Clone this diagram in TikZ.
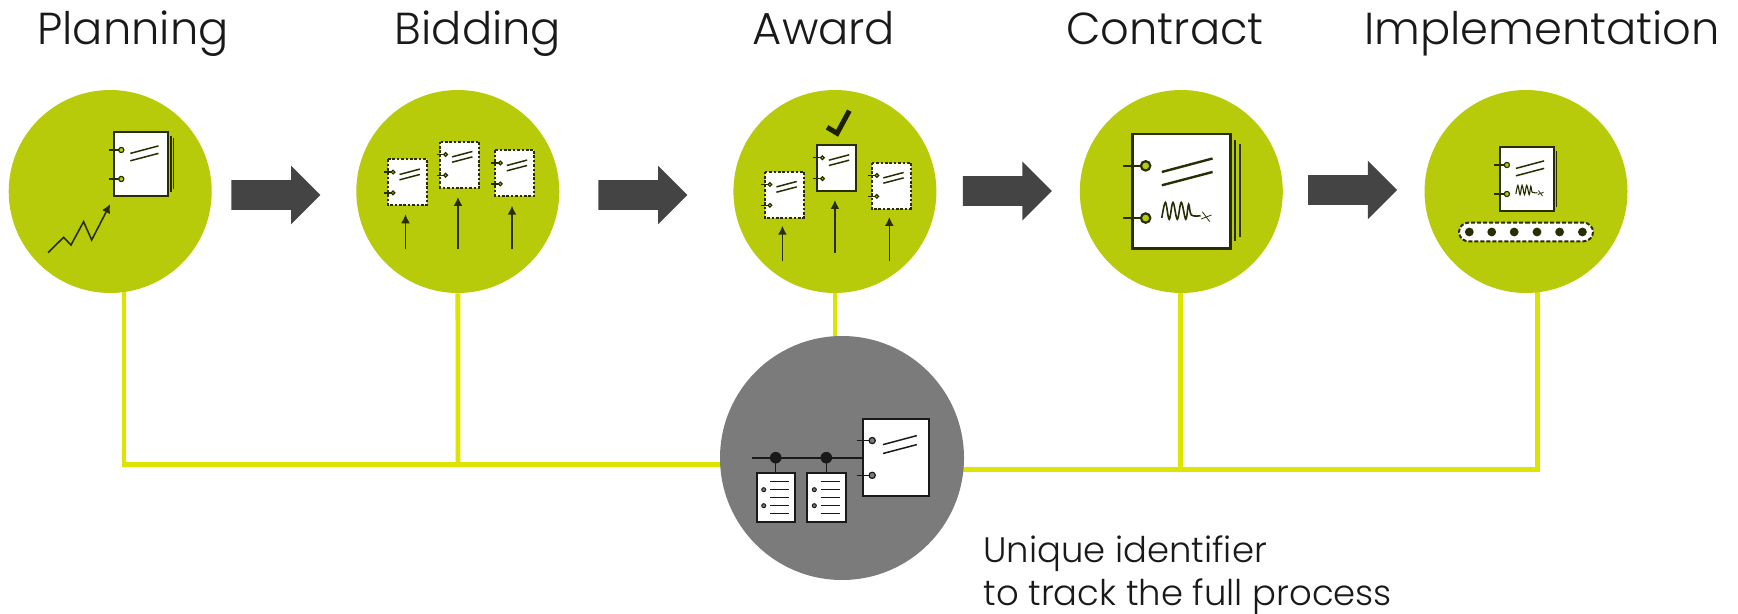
\documentclass[tikz,border=0pt]{standalone}
\usepackage{fontspec}
\setmainfont{Poppins Light}
\usepackage{tikz}
\usetikzlibrary{positioning, arrows.meta, shapes.arrows, shapes.misc, calc}
\pgfdeclarelayer{background}
\pgfsetlayers{background,main}
\definecolor{stagegreen}{HTML}{B8CB0A}
\definecolor{hubgrey}{HTML}{7B7B7B}
\definecolor{linkyellow}{HTML}{DCE400}
\definecolor{arrowgrey}{HTML}{444444}
\colorlet{ink}{black!50!stagegreen!45!black}
\colorlet{ringfill}{stagegreen}
\tikzset{
    stage/.style={circle, fill=stagegreen, minimum size=101.5pt, inner sep=0pt},
    hub/.style={circle, fill=hubgrey, minimum size=122pt, inner sep=0pt},
    link/.style={draw=linkyellow, line width=2.4pt},
    flow/.style={single arrow, fill=arrowgrey, anchor=tip, inner xsep=0pt, inner ysep=7.25pt,
      minimum height=44.5pt, single arrow head extend=7.25pt},
    title/.style={anchor=base, font=\fontsize{22.4}{27}\selectfont, text=black!90},
    note/.style={anchor=base west, inner sep=0pt, font=\fontsize{17.7}{21.5}\selectfont, text=black!90},
    perforated/.style={dash pattern=on 1.3pt off 0.9pt},
    edge/.style={line width=1pt},
    slash/.style={draw=ink, line width=0.75pt},
    tick/.style={draw=ink, line width=0.6pt},
    ring/.style={draw=ink, fill=ringfill, line width=0.6pt},
    pen/.style={draw=ink, line width=0.55pt},
    up/.style={draw=ink, line width=0.75pt, -{Latex[length=4.5pt,width=4.5pt]}},
    sheet/.pic = {
    \draw[draw=ink, fill=white, edge, #1] (0,0) rectangle (54.4,63.7);
    \foreach \ringy in {17.7,46.7} {
      \draw[tick] (-5.1,\ringy) -- (5,\ringy);
      \draw[ring] (7.4,\ringy) circle (2.6);
    }
    \draw[slash] (16.4,21.1) -- (44.6,13.6);
    \draw[slash] (16.4,28.5) -- (44.6,21.1);
    },
    stack/.pic = {
    \draw[slash] (57,3.4) -- (57,59.6);
    \draw[slash] (59.8,5.7) -- (59.8,57);
    },
    scrawl/.pic = {
    \draw[pen] plot[smooth, tension=0.6] coordinates {(16.4,46.6) (18.4,38) (20.5,47.4) (22.6,38) (25,47.4) (27.2,38) (29.7,47.4) (31.3,39) (32.8,45) (37.9,45.4)};
    \draw[draw=ink, line width=0.4pt] (38.9,43.2) -- (43,48.7);
    \draw[draw=ink, line width=0.4pt] (38.3,47.2) -- (44,45);
    },
    form/.pic = {
    \draw[draw=ink, fill=white, line width=1pt] (0,0) rectangle (38.3,48.7);
    \foreach \liney in {8,16.4,24.4,32.4,40.4} {
      \draw[draw=ink, line width=0.5pt] (13.3,\liney) -- (32.6,\liney);
    }
    \foreach \ringy in {16.4,32.4} {
      \draw[draw=ink, fill=ringfill, line width=0.5pt] (7,\ringy) circle (2);
    }
    },
}
\begin{document}
\begin{tikzpicture}[x=0.5pt, y=-0.5pt]
    \useasboundingbox (0,0) rectangle (1738,614);

    \node[stage] (planning) at (110.2,191.5) {};
    \node[stage] (bidding) at (457.8,191.5) {};
    \node[stage] (award) at (834.9,191.5) {};
    \node[stage] (contract) at (1181.3,191.5) {};
    \node[stage] (implementation) at (1526,191.5) {};
    \node[hub] (identifier) at (842,458) {};

    \node[title] (planningtitle) at (133,45) {Planning};
    \node[title] (biddingtitle) at (478,45) {Bidding};
    \node[title] (awardtitle) at (824,45) {Award};
    \node[title] (contracttitle) at (1165,45) {Contract};
    \node[title] (implementationtitle) at (1542,45) {Implementation};

    \node[flow] (flowa) at (321,195) {};
    \node[flow] (flowb) at (688,195) {};
    \node[flow] (flowc) at (1052.4,191) {};
    \node[flow] (flowd) at (1397.7,190) {};

    \coordinate (joinleft) at (124,464.7);
    \coordinate (joinmid) at (458,464.7);
    \coordinate (joinright) at (1180.6,469.7);
    \coordinate (joinend) at (1537.5,469.7);

    \begin{pgfonlayer}{background}
      \draw[link] (joinleft |- planning) -- (joinleft) -- (identifier.center |- joinleft);
      \draw[link] (bidding) -- (joinmid);
      \draw[link] (award) -- (award |- identifier);
      \draw[link] (identifier.center |- joinright) -- (joinend) -- (joinend |- implementation);
      \draw[link] (joinright) -- (joinright |- contract);
    \end{pgfonlayer}

    % planning
    \pic at (113.9,132.3) {stack};
    \pic at (113.9,132.3) {sheet=solid};
    \draw[up, line width=0.8pt] (48.1,252.7) -- (63.6,237.3) -- (71,245) -- (83.6,221.7) -- (91.7,240) -- (110.2,204);

    % bidding
    \pic[scale=0.72] at (387.7,159.3) {sheet=perforated};
    \pic[scale=0.72] at (440.3,141.7) {sheet=perforated};
    \pic[scale=0.72] at (495,150.3) {sheet=perforated};
    \draw[up] (405.5,249.3) -- (405.5,214.3);
    \draw[up] (458,249.3) -- (458,197);
    \draw[up] (512,249.3) -- (512,205.7);

    % award
    \pic[scale=0.72] at (764.6,171.7) {sheet=perforated};
    \pic[scale=0.72] at (817.1,145) {sheet=solid};
    \pic[scale=0.72] at (871.5,162.7) {sheet=perforated};
    \draw[up] (782.4,261.3) -- (782.4,225.7);
    \draw[up] (834.9,252.7) -- (834.9,200);
    \draw[up] (889.3,261.3) -- (889.3,217);
    \draw[draw=ink!70!black, line width=2.5pt] (827.1,127.3) -- (837.1,133.3) -- (849.3,110.7);

    % contract
    \begin{scope}[slash/.style={draw=ink, line width=1.2pt}, edge/.style={line width=1.3pt},
        tick/.style={draw=ink, line width=0.9pt}, ring/.style={draw=ink, fill=ringfill, line width=1.1pt},
        pen/.style={draw=ink, line width=0.8pt}]
      \pic[scale=1.8] at (1132.3,134) {stack};
      \pic[scale=1.8] at (1132.3,134) {sheet=solid};
      \pic[scale=1.8] at (1132.3,134) {scrawl};
    \end{scope}

    % implementation
    \draw[slash] (1556.6,151) -- (1556.6,206.7);
    \pic at (1499.5,147.3) {sheet=solid};
    \pic at (1499.5,147.3) {scrawl};
    \node[rounded rectangle, draw=ink, fill=white, line width=1pt, dash pattern=on 2pt off 1pt, minimum width=67pt, minimum height=9.3pt, inner sep=0pt] (belt) at (1526,232) {};
    \foreach \beltx in {1469.3,1491.7,1514.2,1537,1559.6,1582.4} {
      \fill[ink] (\beltx,232) circle (4.4);
    }

    % identifier
    \begin{scope}
      \colorlet{ink}{black!90}
      \colorlet{ringfill}{hubgrey}
      \draw[draw=ink, line width=1pt] (752,457.7) -- (863.3,457.7);
      \draw[draw=ink, line width=0.75pt] (775.7,457.7) -- (775.7,473.3);
      \draw[draw=ink, line width=0.75pt] (826.3,457.7) -- (826.3,473.3);
      \fill[ink] (775.7,457.7) circle (5.8);
      \fill[ink] (826.3,457.7) circle (5.8);
      \pic at (756.7,473.3) {form};
      \pic at (807.3,473.3) {form};
      \pic[scale=1.2] at (863.3,419.3) {sheet=solid};
    \end{scope}

    \node[note] (caption) at (983,562.5) {Unique identifier};
    \node[note] (captionb) at (983,605) {to track the full process};
  \end{tikzpicture}
\end{document}
